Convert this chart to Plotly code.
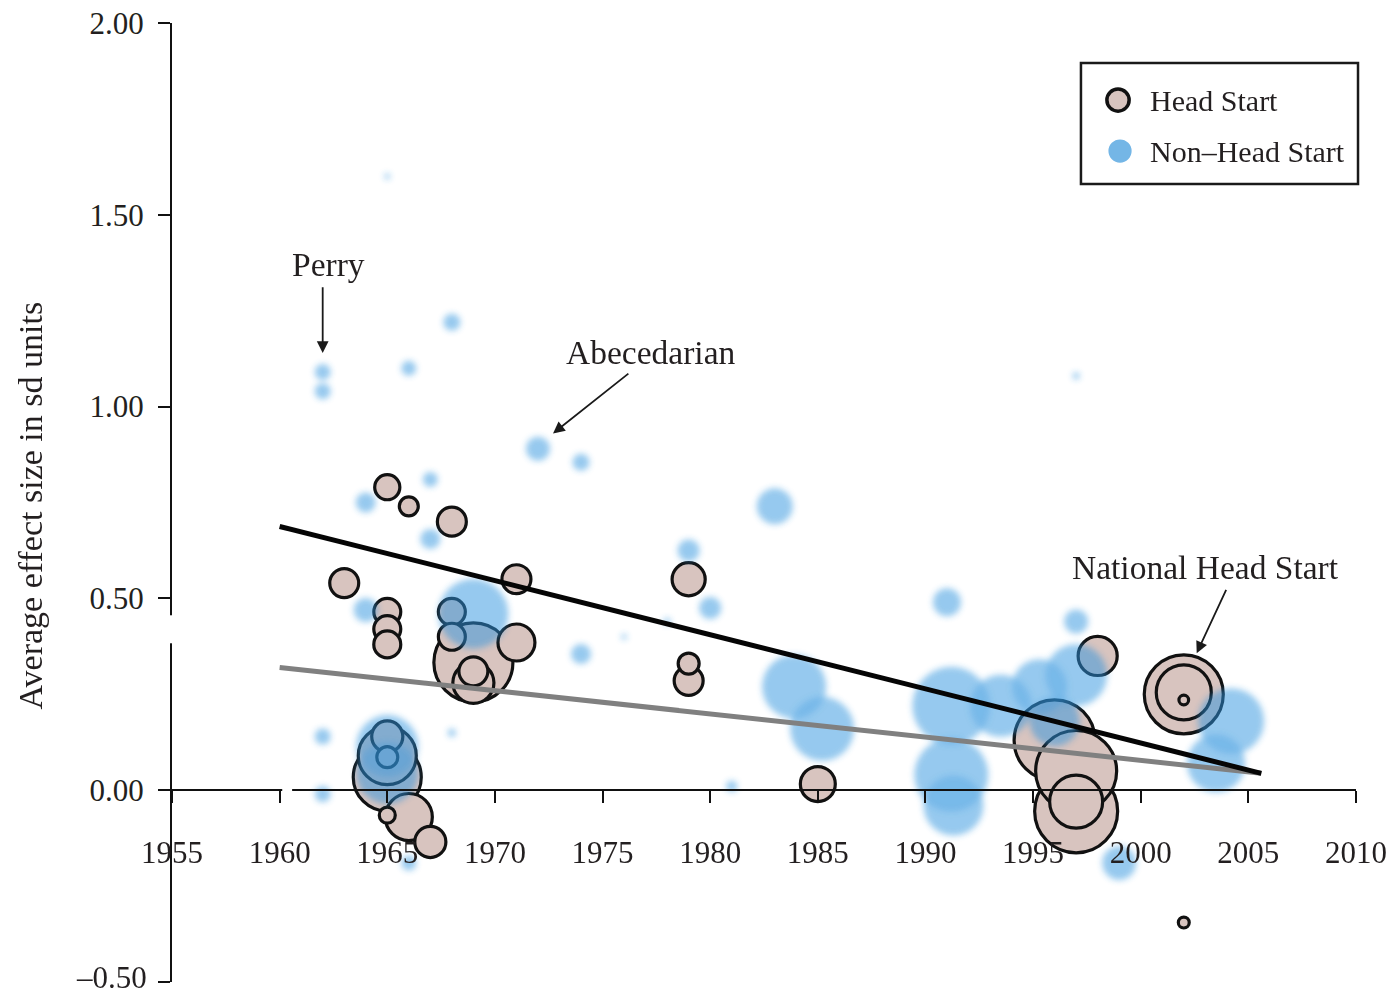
import numpy as np
import plotly.graph_objects as go

# ---- data -------------------------------------------------------------
# Head Start evaluations: program start year, average effect size (sd), study weight
hs_year = [1965, 1966, 1968, 1963, 1965, 1965, 1965, 1971, 1968, 1968, 1971,
           1969, 1969, 1969, 1979, 1979, 1979, 1985, 1998, 2002, 2002, 2002,
           2002, 1996, 1997, 1997, 1997, 1965, 1965, 1965, 1965, 1965, 1966, 1967]
hs_effect = [0.79, 0.74, 0.70, 0.54, 0.465, 0.42, 0.38, 0.55, 0.465, 0.40, 0.385,
             0.333, 0.28, 0.31, 0.55, 0.33, 0.285, 0.016, 0.35, 0.25, 0.255, 0.235,
             -0.345, 0.13, 0.05, -0.055, -0.03, 0.14, 0.086, 0.09, 0.034, -0.065, -0.07, -0.135]
hs_weight = [28, 14, 39, 39, 33, 33, 33, 39, 33, 33, 68,
             352, 86, 39, 53, 18, 39, 60, 77, 352, 163, 2,
             3, 371, 371, 390, 150, 46, 18, 182, 256, 9, 116, 46]

# Other early childhood programs
nhs_year = [1965, 1962, 1962, 1966, 1968, 1972, 1974, 1967, 1964, 1967,
            1997, 1983, 1979, 1980, 1991, 1997, 1964, 1969, 1978, 1976,
            1974, 1968, 1962, 1962, 1965, 1965, 1966, 1981, 1999,
            1983.9, 1985.2, 1991.2, 1991.2, 1991.3, 1993.5, 1995.3, 1997, 1996,
            2004.2, 2003.5]
nhs_effect = [1.60, 1.09, 1.04, 1.10, 1.22, 0.89, 0.855, 0.81, 0.75, 0.655,
              1.08, 0.74, 0.625, 0.475, 0.49, 0.44, 0.47, 0.46, 0.44, 0.40,
              0.355, 0.15, 0.14, -0.01, 0.115, 0.045, -0.19, 0.01, -0.19,
              0.27, 0.16, 0.22, 0.04, -0.04, 0.22, 0.27, 0.30, 0.18,
              0.18, 0.07]
nhs_weight = [2, 16, 16, 14, 18, 36, 18, 14, 25, 25,
              3, 81, 30, 30, 49, 36, 36, 306, 3, 2,
              25, 4, 16, 16, 240, 240, 14, 8, 72,
              256, 256, 380, 342, 225, 240, 189, 240, 156,
              272, 210]

# Fitted trend lines across program years
trend_years = [1960.0, 2005.6]
trend_line_1 = [0.6875, 0.044]
trend_line_2 = [0.32, 0.044]

x_ticks = [1955, 1960, 1965, 1970, 1975, 1980, 1985, 1990, 1995, 2000, 2005, 2010]
y_ticks = [-0.5, 0.0, 0.5, 1.0, 1.5, 2.0]
y_ticktext = ["", "0.00", "0.50", "1.00", "1.50", "2.00"]
y_bottom_label = "\u20130.50"   # set separately so it sits inside the page edge

# ---- styling ------------------------------------------------------------
FONT = "Liberation Serif, Times New Roman, serif"
TXT = "#231f20"
BEIGE = "#d8c4bf"
BLUE = "#3094de"


def diameters(weights):
    return 4.0 * np.sqrt(np.asarray(weights, dtype=float))


# draw larger bubbles first so small ones stay visible
hs_order = np.argsort(-np.asarray(hs_weight, dtype=float), kind="stable")
nhs_order = np.argsort(-np.asarray(nhs_weight, dtype=float), kind="stable")

fig = go.Figure()

fig.add_trace(go.Scatter(
    x=np.asarray(hs_year)[hs_order], y=np.asarray(hs_effect)[hs_order],
    mode="markers", name="Head Start", showlegend=False, hoverinfo="skip",
    marker=dict(size=diameters(hs_weight)[hs_order] + 4, color=BEIGE,
                line=dict(color="#111111", width=3.2), opacity=1),
))

fig.add_trace(go.Scatter(
    x=np.asarray(nhs_year)[nhs_order], y=np.asarray(nhs_effect)[nhs_order],
    mode="markers", name="Non\u2013Head Start", showlegend=False, hoverinfo="skip",
    opacity=0.72, uid="nhsbubbles",
    marker=dict(size=diameters(nhs_weight)[nhs_order], color=BLUE,
                line=dict(width=0)),
))

fig.add_trace(go.Scatter(
    x=trend_years, y=trend_line_2, mode="lines", showlegend=False, hoverinfo="skip",
    line=dict(color="#808080", width=5),
))
fig.add_trace(go.Scatter(
    x=trend_years, y=trend_line_1, mode="lines", showlegend=False, hoverinfo="skip",
    line=dict(color="#050505", width=5),
))

# ---- axes -----------------------------------------------------------------
fig.update_xaxes(
    range=[1955, 2010], tickvals=x_ticks, ticktext=[str(v) for v in x_ticks],
    showgrid=False, zeroline=False, showline=True, linecolor="#111", linewidth=2,
    ticks="outside", ticklen=12, tickwidth=2, tickcolor="#111",
    anchor="free", position=0.2, ticklabelstandoff=23,
    automargin=False, ticklabeloverflow="allow",
    tickfont=dict(family=FONT, size=31, color=TXT),
)
fig.update_yaxes(
    range=[-0.5, 2.0], tickvals=y_ticks, ticktext=y_ticktext,
    showgrid=False, zeroline=False, showline=True, linecolor="#111", linewidth=2,
    ticks="outside", ticklen=12, tickwidth=2, tickcolor="#111",
    ticklabelstandoff=8, automargin=False, ticklabeloverflow="allow",
    tickfont=dict(family=FONT, size=31, color=TXT),
)

# axis breaks
shapes = [
    dict(type="rect", xref="paper", yref="y", x0=-0.012, x1=0.012, y0=0.383, y1=0.456,
         fillcolor="white", line=dict(width=0), layer="above"),
    dict(type="rect", xref="x", yref="y", x0=1960.12, x1=1960.58, y0=-0.014, y1=0.014,
         fillcolor="white", line=dict(width=0), layer="above"),
]

# legend box
shapes += [
    dict(type="rect", xref="paper", yref="paper", x0=0.7677, x1=1.0017, y0=0.8321, y1=0.9583,
         fillcolor="white", line=dict(color="#1a1a1a", width=2.5), layer="above"),
    dict(type="circle", xref="paper", yref="paper", x0=0.799 - 0.0094, x1=0.799 + 0.0094,
         y0=0.9197 - 0.0116, y1=0.9197 + 0.0116, fillcolor=BEIGE,
         line=dict(color="#111", width=3.5), layer="above"),
    dict(type="circle", xref="paper", yref="paper", x0=0.8007 - 0.0098, x1=0.8007 + 0.0098,
         y0=0.8665 - 0.0121, y1=0.8665 + 0.0121, fillcolor="#74b6e6",
         line=dict(width=0), layer="above"),
]

annotations = [
    dict(text="Head Start", xref="paper", yref="paper", x=0.8243, y=0.9197,
         xanchor="left", yanchor="middle", showarrow=False,
         font=dict(family=FONT, size=30, color=TXT)),
    dict(text="Non\u2013Head Start", xref="paper", yref="paper", x=0.8243, y=0.8665,
         xanchor="left", yanchor="middle", showarrow=False,
         font=dict(family=FONT, size=30, color=TXT)),
    dict(text="Average effect size in sd units", xref="paper", yref="paper",
         x=-0.1199, y=0.497, textangle=-90, showarrow=False,
         xanchor="center", yanchor="middle",
         font=dict(family=FONT, size=34, color=TXT)),
    dict(text=y_bottom_label, xref="paper", yref="paper", x=-0.0203, y=-0.0146,
         xanchor="right", yanchor="bottom", showarrow=False, borderpad=0,
         font=dict(family=FONT, size=31, color=TXT)),
]

# program labels with arrows
callouts = [
    ("Perry", (1962.25, 1.37), (1962.0, 1.315), (1962.0, 1.14)),
    ("Abecedarian", (1977.25, 1.14), (1976.27, 1.089), (1972.7, 0.93)),
    ("National Head Start", (2003.03, 0.58), (2004.0, 0.526), (2002.6, 0.357)),
]
for label, (tx, ty), (ax, ay), (hx, hy) in callouts:
    annotations.append(dict(text=label, x=tx, y=ty, xref="x", yref="y", showarrow=False,
                            xanchor="center", yanchor="middle",
                            font=dict(family=FONT, size=33.5, color=TXT)))
    annotations.append(dict(text="", x=hx, y=hy, ax=ax, ay=ay, xref="x", yref="y",
                            axref="x", ayref="y", showarrow=True, arrowhead=2,
                            arrowsize=1.3, arrowwidth=1.8, arrowcolor="#1a1a1a",
                            standoff=0, startstandoff=0))

fig.update_layout(
    width=1388, height=996,
    margin=dict(l=172, r=32, t=23, b=14, autoexpand=False),
    paper_bgcolor="white", plot_bgcolor="white",
    showlegend=False,
    shapes=shapes, annotations=annotations,
    font=dict(family=FONT, color=TXT),
)

# soft edges for the non-Head Start bubbles
soften_js = """
var gd = document.getElementById('{plot_id}');
function softenBubbles() {
  var svg = gd.querySelector('svg.main-svg');
  if (!svg) return;
  var ns = 'http://www.w3.org/2000/svg';
  if (!document.getElementById('soft-edge')) {
    var defs = svg.querySelector('defs');
    if (!defs) { defs = document.createElementNS(ns, 'defs'); svg.insertBefore(defs, svg.firstChild); }
    var f = document.createElementNS(ns, 'filter');
    f.setAttribute('id', 'soft-edge');
    f.setAttribute('x', '-30%'); f.setAttribute('y', '-30%');
    f.setAttribute('width', '160%'); f.setAttribute('height', '160%');
    var b = document.createElementNS(ns, 'feGaussianBlur');
    b.setAttribute('stdDeviation', '3');
    f.appendChild(b);
    defs.appendChild(f);
  }
  var groups = gd.querySelectorAll('g.tracenhsbubbles g.points');
  groups.forEach(function (g) { g.setAttribute('filter', 'url(#soft-edge)'); });
}
softenBubbles();
if (gd.on) { gd.on('plotly_afterplot', softenBubbles); }
"""

fig.write_html("out.html", post_script=soften_js)
